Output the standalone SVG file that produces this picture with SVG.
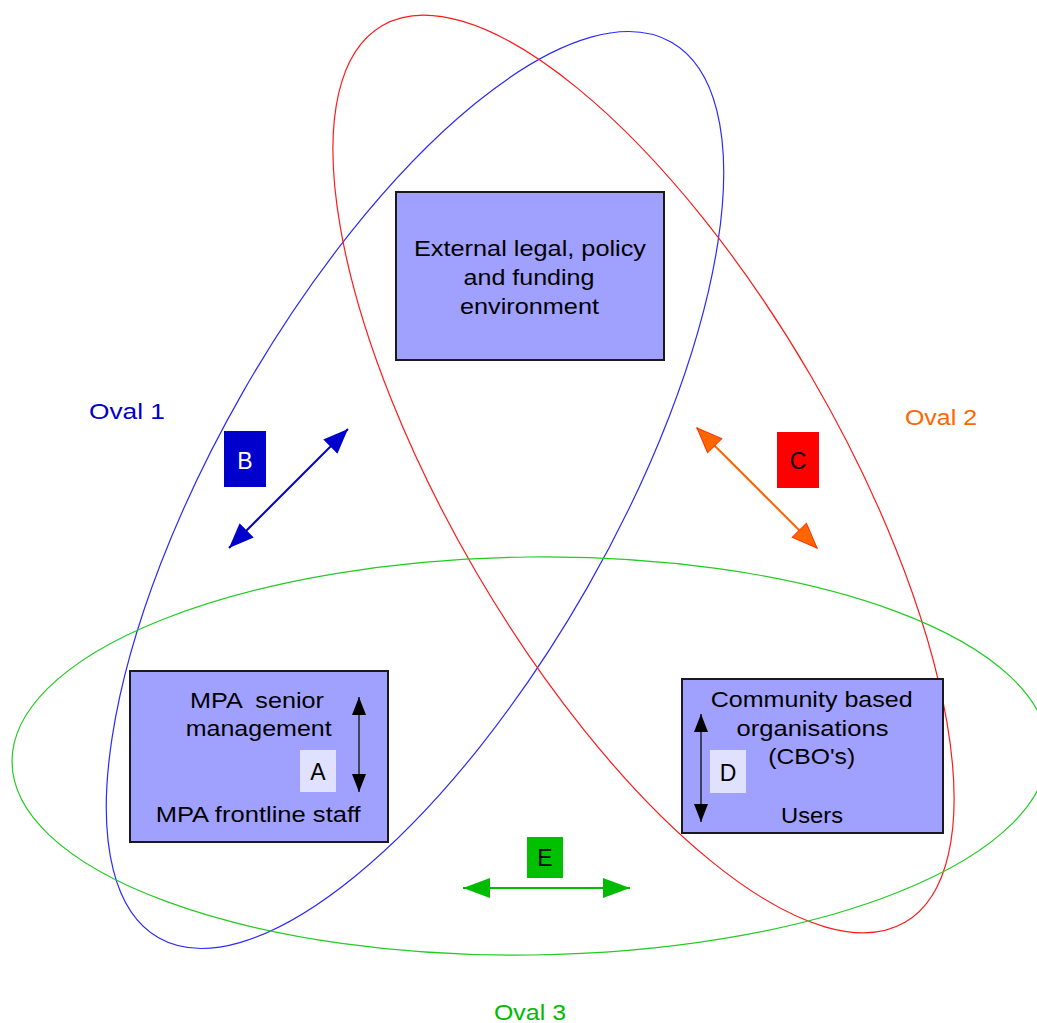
<svg xmlns="http://www.w3.org/2000/svg" width="1037" height="1023" viewBox="0 0 1037 1023">
  <defs>
    <style>
      .oval{fill:none;stroke-width:1.2}
      .box{fill:#a0a0ff;stroke:#1a1a1a;stroke-width:2}
      .tag{fill:#e0e0ff}
      .t{font-family:"Liberation Sans",Arial,Helvetica,sans-serif;font-size:22px;fill:#000;text-anchor:middle}
      .k{font-family:"Liberation Sans",Arial,Helvetica,sans-serif;font-size:23px;fill:#000;text-anchor:middle}
      .lbl{font-family:"Liberation Sans",Arial,Helvetica,sans-serif;font-size:22px;text-anchor:middle}
    </style>
    <marker id="headB" viewBox="0 0 25 20" refX="25" refY="10" markerWidth="25" markerHeight="20" markerUnits="userSpaceOnUse" orient="auto-start-reverse">
      <path d="M0,0 L25,10 L0,20 Z" fill="#0000cc"/>
    </marker>
    <marker id="headC" viewBox="-1 -1 27 22" refX="25" refY="10" markerWidth="27" markerHeight="22" markerUnits="userSpaceOnUse" orient="auto-start-reverse">
      <path d="M0,0 L25,10 L0,20 Z" fill="#ff6600" stroke="#ff3300" stroke-width="1"/>
    </marker>
    <marker id="headE" viewBox="0 0 27 20" refX="27" refY="10" markerWidth="27" markerHeight="20" markerUnits="userSpaceOnUse" orient="auto-start-reverse">
      <path d="M0,0 L27,10 L0,20 Z" fill="#00bb00"/>
    </marker>
    <marker id="headK" viewBox="0 0 18 14" refX="18" refY="7" markerWidth="18" markerHeight="14" markerUnits="userSpaceOnUse" orient="auto-start-reverse">
      <path d="M0,0 L18,7 L0,14 Z" fill="#000"/>
    </marker>
  </defs>

  <rect width="1037" height="1023" fill="#fff"/>

  <!-- the three overlapping ovals -->
  <g id="ovals">
    <ellipse id="oval1" class="oval" cx="415" cy="490" rx="516" ry="198" transform="rotate(-60.2 415 490)" stroke="#2a2aff"/>
    <ellipse id="oval2" class="oval" cx="643.5" cy="474" rx="519" ry="194" transform="rotate(59.75 643.5 474)" stroke="#ff1a1a"/>
    <ellipse id="oval3" class="oval" cx="530" cy="756" rx="518" ry="199" transform="rotate(-0.7 530 756)" stroke="#22cc22"/>
  </g>

  <!-- oval captions -->
  <g id="oval-labels">
    <text class="lbl" x="127" y="419" fill="#0000cc" textLength="76" lengthAdjust="spacingAndGlyphs">Oval 1</text>
    <text class="lbl" x="941" y="425" fill="#ff6600" textLength="72" lengthAdjust="spacingAndGlyphs">Oval 2</text>
    <text class="lbl" x="530" y="1020" fill="#00bb00" textLength="72" lengthAdjust="spacingAndGlyphs">Oval 3</text>
  </g>

  <!-- external environment -->
  <g id="node-external">
    <rect class="box" x="396" y="192" width="268" height="168"/>
    <text class="t" x="530" y="256" textLength="232" lengthAdjust="spacingAndGlyphs">External legal, policy</text>
    <text class="t" x="529" y="285" textLength="131" lengthAdjust="spacingAndGlyphs">and funding</text>
    <text class="t" x="529.5" y="314" textLength="139" lengthAdjust="spacingAndGlyphs">environment</text>
  </g>

  <!-- MPA staff -->
  <g id="node-mpa">
    <rect class="box" x="130" y="671" width="258" height="171"/>
    <text class="t" x="257" y="708" xml:space="preserve" textLength="134" lengthAdjust="spacingAndGlyphs">MPA  senior</text>
    <text class="t" x="258.7" y="736" textLength="146" lengthAdjust="spacingAndGlyphs">management</text>
    <text class="t" x="258.2" y="822" textLength="205" lengthAdjust="spacingAndGlyphs">MPA frontline staff</text>
    <rect class="tag" x="300" y="750" width="36" height="42"/>
    <text class="k" x="318" y="780">A</text>
  </g>

  <!-- community organisations and users -->
  <g id="node-community">
    <rect class="box" x="682" y="679" width="261" height="154"/>
    <text class="t" x="811.7" y="707" textLength="202" lengthAdjust="spacingAndGlyphs">Community based</text>
    <text class="t" x="812.5" y="736" textLength="152" lengthAdjust="spacingAndGlyphs">organisations</text>
    <text class="t" x="811.7" y="764" textLength="87" lengthAdjust="spacingAndGlyphs">(CBO's)</text>
    <text class="t" x="812" y="823" textLength="62" lengthAdjust="spacingAndGlyphs">Users</text>
    <rect class="tag" x="710" y="750" width="36" height="43"/>
    <text class="k" x="728" y="781">D</text>
  </g>

  <!-- relationship tags -->
  <g id="tag-B">
    <rect x="224" y="431" width="42" height="56" fill="#0000cc"/>
    <text class="k" x="245" y="469" style="fill:#fff">B</text>
  </g>
  <g id="tag-C">
    <rect x="777" y="432" width="42" height="56" fill="#ff0000"/>
    <text class="k" x="798" y="469">C</text>
  </g>
  <g id="tag-E">
    <rect x="527" y="837" width="36" height="41" fill="#00c000"/>
    <text class="k" x="545" y="866">E</text>
  </g>

  <!-- two-way arrows -->
  <g id="connectors">
    <line x1="229" y1="548" x2="348" y2="429" stroke="#0000cc" stroke-width="2" marker-start="url(#headB)" marker-end="url(#headB)"/>
    <line x1="697" y1="428" x2="817" y2="548" stroke="#ff6600" stroke-width="2" marker-start="url(#headC)" marker-end="url(#headC)"/>
    <line x1="463" y1="888" x2="630" y2="888" stroke="#00bb00" stroke-width="2" marker-start="url(#headE)" marker-end="url(#headE)"/>
    <line x1="359" y1="697" x2="359" y2="792" stroke="#222" stroke-width="1.5" marker-start="url(#headK)" marker-end="url(#headK)"/>
    <line x1="701" y1="714" x2="701" y2="822" stroke="#222" stroke-width="1.5" marker-start="url(#headK)" marker-end="url(#headK)"/>
  </g>
</svg>
